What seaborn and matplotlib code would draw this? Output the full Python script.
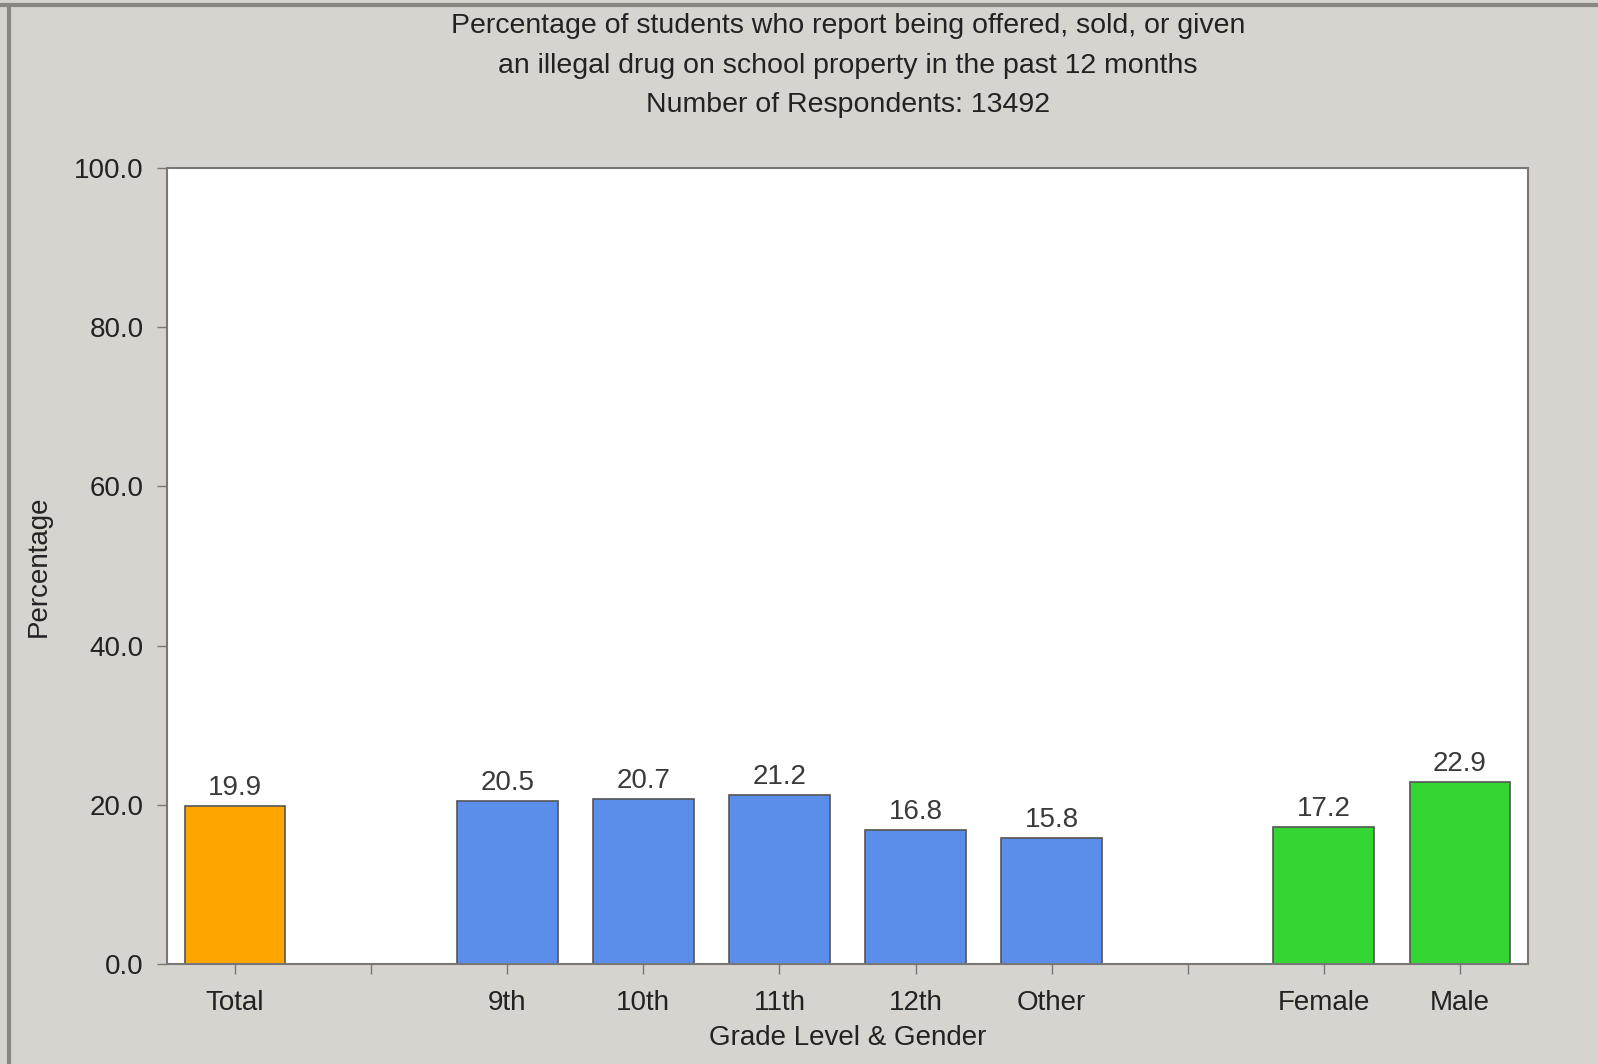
import matplotlib
matplotlib.use("Agg")
import matplotlib.pyplot as plt
from matplotlib.lines import Line2D
import seaborn as sns
import pandas as pd

categories = ["Total", "9th", "10th", "11th", "12th", "Other", "Female", "Male"]
values = [19.9, 20.5, 20.7, 21.2, 16.8, 15.8, 17.2, 22.9]
groups = ["Total", "Grade", "Grade", "Grade", "Grade", "Grade", "Gender", "Gender"]
order = ["Total", " ", "9th", "10th", "11th", "12th", "Other", "  ", "Female", "Male"]
y_ticks = [0, 20, 40, 60, 80, 100]
title_lines = ["Percentage of students who report being offered, sold, or given",
               "an illegal drug on school property in the past 12 months",
               "Number of Respondents: 13492"]

palette = {"Total": "#FFA500", "Grade": "#5B8DEA", "Gender": "#33D633"}
bg = "#D7D3CE"

sns.set_theme(style="white")
plt.rcParams["font.family"] = ["Liberation Sans", "DejaVu Sans"]

df = pd.DataFrame({"cat": categories, "val": values, "grp": groups})

fig = plt.figure(figsize=(15.98, 10.64), dpi=100, facecolor=bg)
ax = fig.add_axes([167 / 1598, 1 - 964 / 1064, (1528 - 167) / 1598, (964 - 168) / 1064])
ax.set_facecolor("white")

sns.barplot(data=df, x="cat", y="val", hue="grp", order=order, palette=palette,
            dodge=False, width=0.74, saturation=1, edgecolor="#555555", linewidth=1.2,
            legend=False, ax=ax)

ax.set_xlim(-0.5, len(order) - 0.5)
ax.set_ylim(0, 100)
ax.set_yticks(y_ticks)
ax.set_yticklabels([f"{t:.1f}" for t in y_ticks])
ax.tick_params(axis="x", bottom=True, labelsize=20, colors="#777777", labelcolor="#222222",
               length=7, width=1, direction="out", pad=12)
ax.tick_params(axis="y", left=True, labelsize=20, colors="#777777", labelcolor="#222222",
               length=7, width=1, direction="out", pad=10)

for spine in ax.spines.values():
    spine.set_color("#777777")
    spine.set_linewidth(1.5)

for cat, v in zip(categories, values):
    xi = order.index(cat)
    ax.text(xi, v + 0.6, f"{v:.1f}", ha="center", va="bottom", fontsize=20, color="#3a3a3a")

ax.set_xlabel("Grade Level & Gender", fontsize=20, color="#222222", labelpad=6)
ax.set_ylabel("Percentage", fontsize=20, color="#222222", labelpad=16)

ys = [26, 66, 105]
for line, yp in zip(title_lines, ys):
    fig.text(848 / 1598, 1 - yp / 1064, line, ha="center", va="center",
             fontsize=20.5, color="#222222")

# outer frame (top and left edges only)
fig.add_artist(Line2D([0, 1], [1 - 5 / 1064, 1 - 5 / 1064], transform=fig.transFigure,
                      color="#8A8782", linewidth=3))
fig.add_artist(Line2D([9 / 1598, 9 / 1598], [0, 1 - 5 / 1064], transform=fig.transFigure,
                      color="#8A8782", linewidth=3))

fig.savefig("out.png", dpi=100, facecolor=bg)
